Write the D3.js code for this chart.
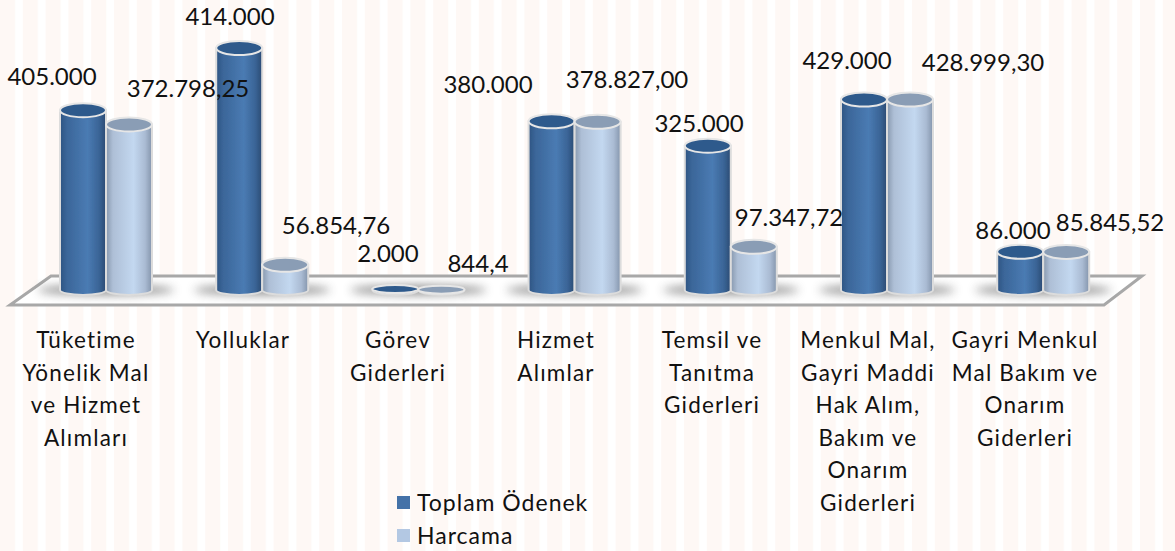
<!DOCTYPE html>
<html><head><meta charset="utf-8">
<style>html,body{margin:0;background:#fff}svg{display:block}text{font-family:Lato,"Open Sans",sans-serif;fill:#111}</style>
<script src="https://cdn.jsdelivr.net/npm/d3@7"></script></head><body><svg id="c" width="1175" height="551"></svg>
<script>
const categories=[["Tüketime","Yönelik Mal","ve Hizmet","Alımları"],["Yolluklar"],["Görev","Giderleri"],["Hizmet","Alımlar"],["Temsil ve","Tanıtma","Giderleri"],["Menkul Mal,","Gayri Maddi","Hak Alım,","Bakım ve","Onarım","Giderleri"],["Gayri Menkul","Mal Bakım ve","Onarım","Giderleri"]];
const seriesNames=["Toplam Ödenek","Harcama"];
const toplam=[405000,545000,2000,380000,325000,429000,86000];
const harcama=[372798.25,56854.76,844.4,378827,97347.72,428999.3,85845.52];
const toplamLabels=["405.000","414.000","2.000","380.000","325.000","429.000","86.000"];
const harcamaLabels=["372.798,25","56.854,76","844,4","378.827,00","97.347,72","428.999,30","85.845,52"];
const toplamLabelPos=[[52,77],[230,17],[388,254],[488,85],[699,124],[847,61],[1013,231]];
const harcamaLabelPos=[[188,89],[336,226],[478,264],[627,80],[789,218],[983,63],[1110,223]];

const svg=d3.select("#c"),defs=svg.append("defs");
const y=d3.scaleLinear().domain([0,545000]).range([290,48]);
const W=46,RY=7;
const grad=(id,stops)=>{const g=defs.append("linearGradient").attr("id",id);stops.forEach(s=>g.append("stop").attr("offset",s[0]).attr("stop-color",s[1]));};
grad("g0",[[0,"#2e5482"],[.15,"#3b6699"],[.6,"#4a7bb3"],[.85,"#3a6496"],[1,"#2a4a72"]]);
grad("g1",[[0,"#8798ae"],[.15,"#aebfd6"],[.6,"#c3d8f0"],[.85,"#aabbd3"],[1,"#8495ac"]]);
const blur=defs.append("filter").attr("id","b").attr("x","-30%").attr("width","160%").attr("y","-100%").attr("height","300%");
blur.append("feGaussianBlur").attr("stdDeviation",5);
const soft=defs.append("filter").attr("id","s").attr("x","-10%").attr("width","120%").attr("y","-10%").attr("height","120%");
soft.append("feGaussianBlur").attr("stdDeviation",.5);

const stripe=defs.append("pattern").attr("id","st").attr("width",22.8).attr("height",10).attr("patternUnits","userSpaceOnUse");
stripe.append("rect").attr("width",22.8).attr("height",10).attr("fill","#fff");
stripe.append("rect").attr("width",15).attr("height",10).attr("fill","#fef8f5");
svg.append("rect").attr("width",1175).attr("height",551).attr("fill","url(#st)");

const floor=d3.line()([[51,276],[1142,276],[1104,305],[10,305]])+"Z";
svg.append("path").attr("d",floor).attr("fill","#fff").attr("stroke","#a8a8a8").attr("stroke-width",3).attr("filter","url(#s)");

const centers=i=>[83+i*156.2,129+i*156.2];
const bars=[toplam,harcama];
toplam.forEach((v,i)=>{svg.append("ellipse").attr("cx",106+i*156.2).attr("cy",290).attr("rx",68).attr("ry",5).attr("fill","#555").attr("opacity",.65).attr("filter","url(#b)");});
for(let i=0;i<7;i++)for(const s of [0,1]){
  const cx=centers(i)[s],v=bars[s][i],yt=y(v),yb=y(0);
  const g=svg.append("g").attr("filter","url(#s)");
  const r=W/2;
  g.append("path").attr("d",`M${cx-r},${yt}L${cx-r},${yb}A${r},5 0 0 0 ${cx+r},${yb}L${cx+r},${yt}Z`).attr("fill",`url(#g${s})`).attr("stroke","#dcdcdc").attr("stroke-width",2);
  g.append("ellipse").attr("cx",cx).attr("cy",yt).attr("rx",r).attr("ry",v<5000?4:RY).attr("fill",s?"#8a9db5":"#2f5a8c").attr("stroke","#e6e6e6").attr("stroke-width",2);
}
const fs=24;
toplamLabels.forEach((t,i)=>svg.append("text").attr("x",toplamLabelPos[i][0]).attr("y",toplamLabelPos[i][1]+8).attr("text-anchor","middle").attr("font-size",fs).text(t));
harcamaLabels.forEach((t,i)=>svg.append("text").attr("x",harcamaLabelPos[i][0]).attr("y",harcamaLabelPos[i][1]+8).attr("text-anchor","middle").attr("font-size",fs).text(t));
const catX=[86,243,398,556,712,868,1025];
categories.forEach((ls,i)=>ls.forEach((l,j)=>svg.append("text").attr("x",catX[i]).attr("y",348+j*32.6).attr("text-anchor","middle").attr("font-size",22.5).attr("letter-spacing",1.2).text(l)));
seriesNames.forEach((n,i)=>{
  svg.append("rect").attr("x",397).attr("y",496+i*33).attr("width",13).attr("height",13).attr("fill",i?"#b3c8e3":"#4472a8");
  svg.append("text").attr("x",417).attr("y",511+i*33).attr("font-size",23).attr("letter-spacing",1).text(n);
});
</script></body></html>
